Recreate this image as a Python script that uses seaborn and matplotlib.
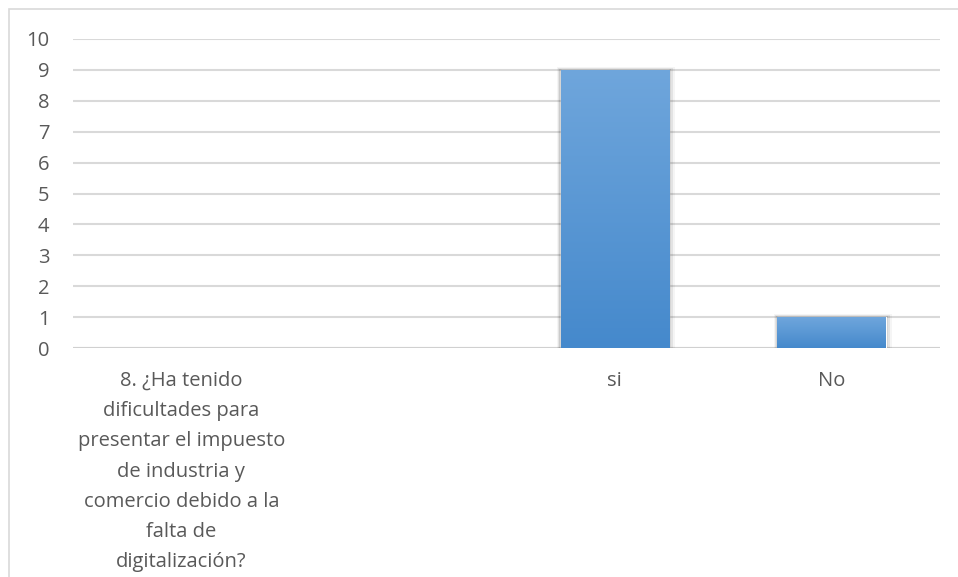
import numpy as np
import pandas as pd
import matplotlib
matplotlib.use('Agg')
import matplotlib.pyplot as plt
import seaborn as sns

# datos
categorias = ['8. ¿Ha tenido\ndificultades para\npresentar el impuesto\nde industria y\ncomercio debido a la\nfalta de\ndigitalización?',
              ' ', 'si', 'No']
valores = [np.nan, np.nan, 9, 1]
yticks = list(range(0, 11))

df = pd.DataFrame({'categoria': categorias, 'valor': valores})

sns.set_style('white')
plt.rcParams['font.family'] = ['Open Sans', 'DejaVu Sans']
gris = '#595959'

fig = plt.figure(figsize=(9.58, 5.77), dpi=100)
# marco gris del grafico
fig.add_artist(plt.Rectangle((9 / 958, -0.1), 1.1, 1 - 9 / 577 + 0.1, transform=fig.transFigure,
                             fill=False, edgecolor='#d9d9d9', linewidth=1.2))
ax = fig.add_axes([73 / 958, 1 - 348 / 577, (940 - 73) / 958, (348 - 39) / 577])

sns.barplot(data=df, x='categoria', y='valor', color='#5b9bd5', width=0.5,
            saturation=1, ax=ax, zorder=3)

# degradado y sombra de las barras
grad = np.linspace(0, 1, 256).reshape(-1, 1)
cmap = matplotlib.colors.LinearSegmentedColormap.from_list('g', ['#4589cc', '#6fa6dc'])
for p in ax.patches:
    h = p.get_height()
    if not np.isfinite(h) or h == 0:
        continue
    x0, w = p.get_x(), p.get_width()
    for k, a in enumerate([0.10, 0.07, 0.04]):
        d = 0.012 * (k + 1)
        ax.add_patch(plt.Rectangle((x0 - d * 0.5, 0), w + d * 1.3, h + 0.03 * (k + 1),
                                   color='black', alpha=a, zorder=2, linewidth=0))
    im = ax.imshow(grad, extent=[x0, x0 + w, 0, h], origin='lower', cmap=cmap,
                   aspect='auto', zorder=4)
    im.set_clip_path(p)

ax.set_xlim(-0.5, 3.5)
ax.set_ylim(0, 10)
ax.set_yticks(yticks)
ax.set_yticklabels([str(t) for t in yticks], color=gris, fontsize=14.5)
ax.set_xticks(range(len(categorias)))
ax.set_xticklabels(categorias, color=gris, fontsize=14.5, linespacing=1.68, va='top')
ax.tick_params(axis='both', length=0)
ax.tick_params(axis='y', pad=17)
ax.tick_params(axis='x', pad=16.5)
ax.set_xlabel('')
ax.set_ylabel('')
ax.grid(axis='y', color='#d9d9d9', linewidth=1.5, zorder=0)
ax.set_axisbelow(True)
for s in ax.spines.values():
    s.set_visible(False)
ax.axhline(0, color='#d0d0d0', linewidth=1.5, zorder=1)

fig.savefig('out.png', dpi=100)
